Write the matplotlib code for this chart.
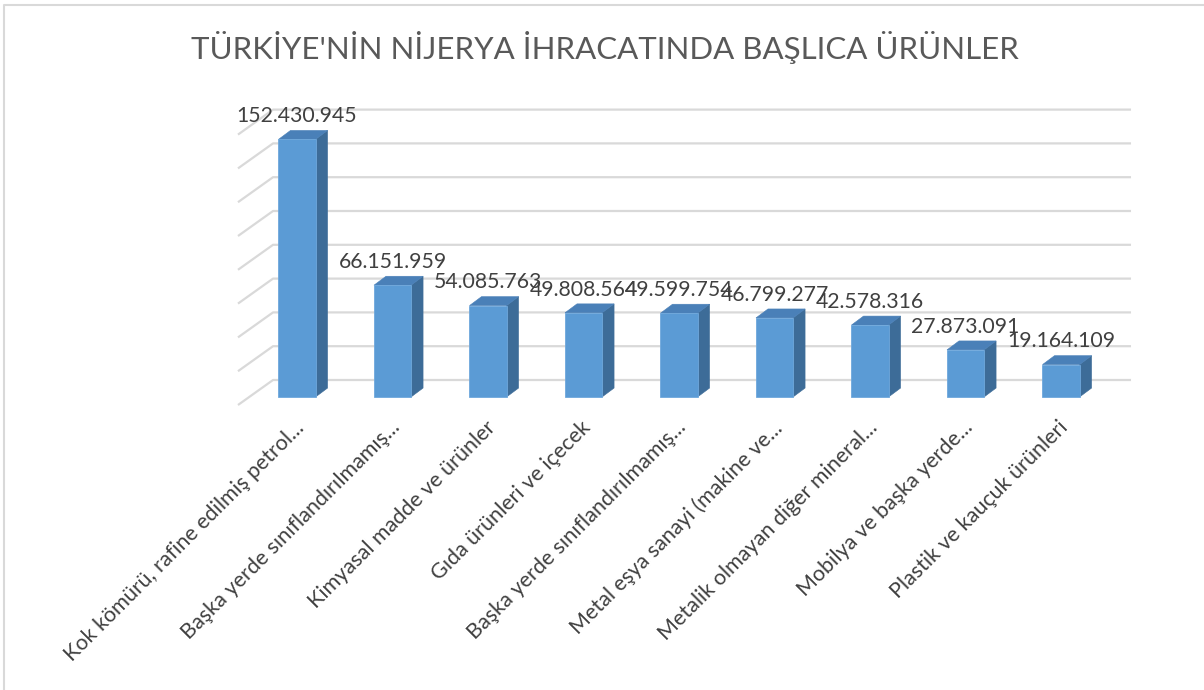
import matplotlib.pyplot as plt
from matplotlib.patches import Polygon
from matplotlib.lines import Line2D

plt.rcParams['font.family'] = ['Lato', 'DejaVu Sans']

title = "TÜRKİYE'NİN NİJERYA İHRACATINDA BAŞLICA ÜRÜNLER"
categories = [
    "Kok kömürü, rafine edilmiş petrol...",
    "Başka yerde sınıflandırılmamış...",
    "Kimyasal madde ve ürünler",
    "Gıda ürünleri ve içecek",
    "Başka yerde sınıflandırılmamış...",
    "Metal eşya sanayi (makine ve...",
    "Metalik olmayan diğer mineral...",
    "Mobilya ve başka yerde...",
    "Plastik ve kauçuk ürünleri",
]
values = [152430945, 66151959, 54085763, 49808564, 49599754,
          46799277, 42578316, 27873091, 19164109]
grid_ticks = [0, 20, 40, 60, 80, 100, 120, 140, 160]  # millions

# 3D look (data units: categories on x, millions on y)
half_w = 0.194
side_dx, side_dy = 0.126, 5.3
wall_back_x, wall_front_x, wall_right_x = -0.251, -0.618, 8.733
wall_back_dy, wall_front_dy = 10.06, -4.73

front_col = '#5B9BD5'
top_col = '#4A80B8'
side_col = '#3D6C98'
grid_col = '#D9D9D9'
text_col = '#404040'

fig = plt.figure(figsize=(12.04, 6.9), dpi=100)
ax = fig.add_axes([230 / 1204, (690 - 410) / 690, 910 / 1204, 315 / 690])
ax.set_xlim(-0.7016, 8.827)
ax.set_ylim(-7.69, 178.7)
ax.axis('off')

# back wall gridlines with slanted left wall part
for g in grid_ticks:
    ax.plot([wall_front_x, wall_back_x, wall_right_x],
            [g + wall_front_dy, g + wall_back_dy, g + wall_back_dy],
            color=grid_col, lw=1.6, solid_capstyle='butt', zorder=1)

for i, v in enumerate(values):
    h = v / 1e6
    x0, x1 = i - half_w, i + half_w
    front = Polygon([(x0, 0), (x1, 0), (x1, h), (x0, h)],
                    facecolor=front_col, edgecolor='#6FA8DC', lw=0.6, zorder=3)
    side = Polygon([(x1, 0), (x1 + side_dx, side_dy), (x1 + side_dx, h + side_dy), (x1, h)],
                   facecolor=side_col, edgecolor=side_col, lw=0.4, zorder=2)
    top = Polygon([(x0, h), (x1, h), (x1 + side_dx, h + side_dy), (x0 + side_dx, h + side_dy)],
                  facecolor=top_col, edgecolor=top_col, lw=0.4, zorder=2)
    for p in (side, top, front):
        ax.add_patch(p)
    label = f"{v:,}".replace(',', '.')
    ax.annotate(label, (i, h + side_dy), xytext=(0, 3), textcoords='offset points',
                ha='center', va='bottom', fontsize=15.3, color=text_col, zorder=5)
    ax.text(i - 0.03, -12, categories[i], rotation=45, rotation_mode='anchor',
            ha='right', va='top', fontsize=15.5, color=text_col, clip_on=False)

fig.text(605 / 1204, 1 - 48 / 690, title, ha='center', va='center',
         fontsize=22.5, color='#595959')

# chart frame (top and left edges visible)
fig.add_artist(Line2D([4 / 1204, 4 / 1204, 1], [0, 1 - 5 / 690, 1 - 5 / 690],
                      color='#D9D9D9', lw=1.5))

fig.savefig('out.png', dpi=100, facecolor='white')
